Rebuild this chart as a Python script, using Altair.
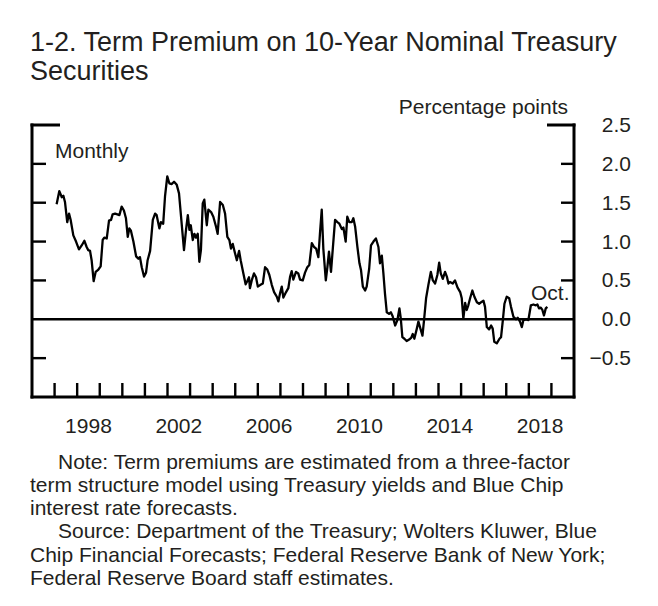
import altair as alt
import pandas as pd

# ---- data ----
years = [1997.09, 1997.21, 1997.32, 1997.39, 1997.46, 1997.56, 1997.64, 1997.71, 1997.83, 1997.95,
         1998.08, 1998.20, 1998.32, 1998.42, 1998.49, 1998.57, 1998.64, 1998.73, 1998.82, 1998.94,
         1999.04, 1999.13, 1999.20, 1999.31, 1999.41, 1999.50, 1999.57, 1999.68, 1999.78, 1999.87,
         1999.97, 2000.07, 2000.16, 2000.24, 2000.31, 2000.38, 2000.49, 2000.61, 2000.71, 2000.78,
         2000.86, 2000.96, 2001.05, 2001.12, 2001.23, 2001.35, 2001.45, 2001.52, 2001.64, 2001.71,
         2001.81, 2001.89, 2001.99, 2002.08, 2002.19, 2002.29, 2002.41, 2002.51, 2002.60, 2002.73,
         2002.82, 2002.90, 2002.97, 2003.03, 2003.12, 2003.19, 2003.26, 2003.34, 2003.41, 2003.48,
         2003.56, 2003.63, 2003.74, 2003.81, 2003.93, 2004.03, 2004.15, 2004.22, 2004.33, 2004.45,
         2004.55, 2004.65, 2004.74, 2004.81, 2004.89, 2004.99, 2005.07, 2005.17, 2005.24, 2005.36,
         2005.46, 2005.53, 2005.61, 2005.65, 2005.73, 2005.83, 2005.92, 2006.00, 2006.10, 2006.22,
         2006.32, 2006.42, 2006.51, 2006.62, 2006.72, 2006.84, 2006.91, 2006.98, 2007.06, 2007.13,
         2007.25, 2007.35, 2007.43, 2007.50, 2007.57, 2007.69, 2007.79, 2007.87, 2007.99, 2008.09,
         2008.19, 2008.28, 2008.39, 2008.49, 2008.58, 2008.68, 2008.75, 2008.83, 2008.90, 2009.01,
         2009.08, 2009.15, 2009.24, 2009.32, 2009.42, 2009.52, 2009.61, 2009.72, 2009.79, 2009.89,
         2009.96, 2010.05, 2010.16, 2010.23, 2010.31, 2010.41, 2010.50, 2010.57, 2010.65, 2010.75,
         2010.82, 2010.93, 2011.01, 2011.12, 2011.23, 2011.34, 2011.41, 2011.49, 2011.56, 2011.63,
         2011.71, 2011.81, 2011.89, 2011.97, 2012.08, 2012.18, 2012.27, 2012.33, 2012.40, 2012.49,
         2012.59, 2012.70, 2012.79, 2012.86, 2012.93, 2013.04, 2013.11, 2013.18, 2013.29, 2013.36,
         2013.45, 2013.55, 2013.66, 2013.75, 2013.85, 2013.95, 2014.03, 2014.10, 2014.19, 2014.29,
         2014.37, 2014.44, 2014.51, 2014.63, 2014.73, 2014.84, 2014.96, 2015.03, 2015.10, 2015.18,
         2015.25, 2015.32, 2015.40, 2015.50, 2015.59, 2015.70, 2015.80, 2015.89, 2015.99, 2016.06,
         2016.14, 2016.24, 2016.33, 2016.40, 2016.47, 2016.58, 2016.70, 2016.77, 2016.85, 2016.92,
         2017.02, 2017.13, 2017.21, 2017.32, 2017.44, 2017.51, 2017.61, 2017.69, 2017.76, 2017.88,
         2017.98, 2018.09, 2018.20, 2018.31, 2018.38, 2018.45, 2018.53, 2018.60, 2018.67, 2018.75,
         2018.82]
premium = [1.48, 1.65, 1.57, 1.59, 1.51, 1.25, 1.36, 1.28, 1.08, 1.00,
           0.90, 0.95, 1.01, 0.93, 0.89, 0.88, 0.76, 0.49, 0.61, 0.64,
           0.68, 1.02, 1.05, 1.04, 1.27, 1.28, 1.35, 1.36, 1.35, 1.34,
           1.45, 1.40, 1.30, 1.06, 1.17, 1.14, 1.00, 0.81, 0.78, 0.80,
           0.67, 0.55, 0.60, 0.76, 0.88, 1.28, 1.36, 1.34, 1.17, 1.25,
           1.23, 1.58, 1.84, 1.75, 1.74, 1.77, 1.73, 1.62, 1.32, 0.89,
           1.15, 1.34, 1.15, 1.21, 1.02, 1.10, 1.05, 1.10, 0.74, 0.89,
           1.49, 1.54, 1.21, 1.41, 1.38, 1.32, 1.19, 1.10, 1.51, 1.47,
           1.36, 1.06, 1.02, 0.91, 0.97, 0.85, 0.76, 0.88, 0.76, 0.59,
           0.45, 0.49, 0.54, 0.40, 0.50, 0.59, 0.54, 0.42, 0.44, 0.46,
           0.67, 0.64, 0.57, 0.44, 0.35, 0.29, 0.23, 0.33, 0.42, 0.28,
           0.35, 0.40, 0.55, 0.62, 0.51, 0.61, 0.59, 0.51, 0.50, 0.60,
           0.67, 0.70, 0.98, 0.93, 0.91, 0.80, 1.10, 1.41, 0.91, 0.50,
           0.67, 0.87, 0.61, 0.91, 1.28, 1.25, 1.23, 1.16, 1.18, 1.00,
           1.32, 1.25, 1.25, 1.30, 1.19, 0.93, 0.72, 0.63, 0.42, 0.37,
           0.42, 0.65, 0.95, 1.00, 1.04, 0.93, 0.72, 0.82, 0.59, 0.33,
           0.09, 0.07, 0.09, 0.04, -0.08, -0.01, 0.14, 0.01, -0.23, -0.25,
           -0.28, -0.26, -0.24, -0.19, -0.25, -0.12, -0.03, -0.10, -0.21, -0.01,
           0.27, 0.44, 0.61, 0.50, 0.46, 0.57, 0.73, 0.59, 0.52, 0.61,
           0.55, 0.46, 0.48, 0.46, 0.50, 0.41, 0.35, 0.27, 0.01, 0.21,
           0.12, 0.18, 0.27, 0.37, 0.29, 0.22, 0.20, 0.22, 0.24, 0.16,
           -0.10, -0.13, -0.08, -0.12, -0.29, -0.31, -0.25, -0.23, -0.01, 0.20,
           0.29, 0.27, 0.16, 0.03, 0.00, 0.02, -0.03, -0.10, -0.01, 0.00,
           -0.01, 0.18, 0.19, 0.18, 0.19, 0.14, 0.15, 0.12, 0.05, 0.14,
           0.16]

x_domain = [1996, 2020]
y_domain = [-1.0, 2.5]
y_ticks = [-0.5, 0.0, 0.5, 1.0, 1.5, 2.0, 2.5]
y_tick_labels = ["\u22120.5", "0.0", "0.5", "1.0", "1.5", "2.0", "2.5"]
y_inner_ticks = [-0.5, 0.5, 1.0, 1.5, 2.0]
year_ticks = list(range(1997, 2020))
year_label_pos = [1998.5, 2002.5, 2006.5, 2010.5, 2014.5, 2018.5]
year_labels = ["1998", "2002", "2006", "2010", "2014", "2018"]

title_lines = ["1-2. Term Premium on 10-Year Nominal Treasury", "Securities"]
units_label = "Percentage points"
freq_label = "Monthly"
last_label = "Oct."
note_lines = [
    "Note: Term premiums are estimated from a three-factor",
    "term structure model using Treasury yields and Blue Chip",
    "interest rate forecasts.",
    "Source: Department of the Treasury; Wolters Kluwer, Blue",
    "Chip Financial Forecasts; Federal Reserve Bank of New York;",
    "Federal Reserve Board staff estimates.",
]

# ---- layout ----
W, H = 542, 272
FONT = "Liberation Sans"
TXT = "#231f20"
FS = 21
INK = "#000000"

xs = alt.Scale(domain=x_domain, nice=False, zero=False)
ys = alt.Scale(domain=y_domain, nice=False, zero=False)

df = pd.DataFrame({"year": years, "tp": premium})

line = alt.Chart(df).mark_line(color=INK, strokeWidth=2.3, strokeJoin="round").encode(
    x=alt.X("year:Q", scale=xs, axis=None),
    y=alt.Y("tp:Q", scale=ys, axis=None),
)

zero = alt.Chart(pd.DataFrame({"v": [0.0]})).mark_rule(color=INK, strokeWidth=2.6).encode(
    y=alt.Y("v:Q", scale=ys, axis=None), x=alt.value(0), x2=alt.value(W))

ticks_df = pd.DataFrame({"v": y_inner_ticks})
left_ticks = alt.Chart(ticks_df).mark_rule(color=INK, strokeWidth=2.4).encode(
    y=alt.Y("v:Q", scale=ys, axis=None), x=alt.value(0), x2=alt.value(14))
right_ticks = alt.Chart(ticks_df).mark_rule(color=INK, strokeWidth=2.4).encode(
    y=alt.Y("v:Q", scale=ys, axis=None), x=alt.value(W - 13), x2=alt.value(W))
bottom_ticks = alt.Chart(pd.DataFrame({"yr": year_ticks})).mark_rule(color=INK, strokeWidth=2.4).encode(
    x=alt.X("yr:Q", scale=xs, axis=None), y=alt.value(H - 14), y2=alt.value(H))

# axis labels drawn from the tick arrays
y_lab = alt.Chart(pd.DataFrame({"v": y_ticks, "lab": y_tick_labels})).mark_text(
    align="right", baseline="middle", font=FONT, fontSize=FS, color=TXT, dy=1
).encode(y=alt.Y("v:Q", scale=ys, axis=None), x=alt.value(W + 57), text="lab:N")
x_lab = alt.Chart(pd.DataFrame({"p": year_label_pos, "lab": year_labels})).mark_text(
    align="center", baseline="alphabetic", font=FONT, fontSize=FS, color=TXT
).encode(x=alt.X("p:Q", scale=xs, axis=None), y=alt.value(H + 35.5), text="lab:N")

one = pd.DataFrame({"k": [0]})
frame_w = 3
frame = [
    alt.Chart(one).mark_rule(color=INK, strokeWidth=frame_w).encode(x=alt.value(0), y=alt.value(-1.5), y2=alt.value(H + 1.5)),
    alt.Chart(one).mark_rule(color=INK, strokeWidth=frame_w).encode(x=alt.value(W), y=alt.value(-1.5), y2=alt.value(H + 1.5)),
    alt.Chart(one).mark_rule(color=INK, strokeWidth=frame_w).encode(y=alt.value(H), x=alt.value(-1.5), x2=alt.value(W + 1.5)),
    alt.Chart(one).mark_rule(color=INK, strokeWidth=frame_w).encode(y=alt.value(0), x=alt.value(-1.5), x2=alt.value(28)),
    alt.Chart(one).mark_rule(color=INK, strokeWidth=frame_w).encode(y=alt.value(0), x=alt.value(W - 27), x2=alt.value(W + 1.5)),
]


def txt(s, x, y, size=FS, align="left"):
    return alt.Chart(one).mark_text(
        align=align, baseline="alphabetic", font=FONT, fontSize=size, color=TXT
    ).encode(x=alt.value(x), y=alt.value(y), text=alt.value(s))


texts = [
    txt(title_lines[0], -2, -74, 27),
    txt(title_lines[1], -2, -45, 27),
    txt(units_label, 536, -11.5, FS, "right"),
    txt(freq_label, 23, 33),
    txt(last_label, 499, 175),
]
note_x = [26, -2, -2, 26, -2, -2]
note_y = [343.5, 366.8, 390.1, 413.4, 436.7, 460]
for s, nx, ny in zip(note_lines, note_x, note_y):
    texts.append(txt(s, nx, ny))

chart = alt.layer(zero, left_ticks, right_ticks, bottom_ticks, *frame, line, y_lab, x_lab, *texts).properties(
    width=W, height=H,
    padding={"left": 24, "top": 117, "right": 70, "bottom": 195},
    autosize=alt.AutoSizeParams(type="none"),
    background="white",
).configure_view(stroke=None)

chart.save("out.html", embed_options={"renderer": "svg", "actions": False})
